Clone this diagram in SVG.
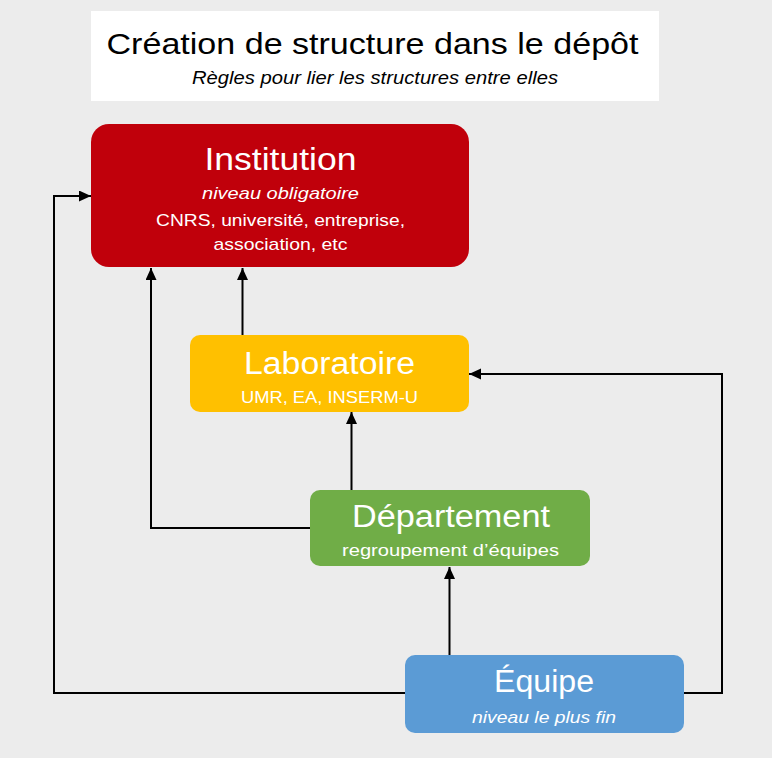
<svg xmlns="http://www.w3.org/2000/svg" width="772" height="759" viewBox="0 0 772 759">
<defs>
<style>
text { font-family: "Liberation Sans", Arial, sans-serif; text-anchor: middle; fill: #ffffff; }
.title { fill: #000000; font-size: 30px; }
.subtitle { fill: #000000; font-size: 18px; font-style: italic; }
.big { font-size: 31px; }
.small { font-size: 17px; }
.it { font-style: italic; }
.conn { fill: none; stroke: #000000; stroke-width: 2; marker-end: url(#arrow); }
</style>
<marker id="arrow" markerUnits="userSpaceOnUse" markerWidth="14" markerHeight="12" refX="12" refY="5.5" orient="auto">
<path d="M0,0 L12,5.5 L0,11 Z" fill="#000000"/>
</marker>
</defs>
<rect x="0" y="0" width="772" height="758" fill="#ececec"/>
<rect x="0" y="758" width="772" height="1" fill="#ffffff"/>
<g id="title">
<rect x="91" y="11" width="568" height="90" fill="#ffffff"/>
<text class="title" x="372.5" y="54" textLength="532" lengthAdjust="spacingAndGlyphs">Création de structure dans le dépôt</text>
<text class="subtitle" x="375" y="83.5" textLength="366" lengthAdjust="spacingAndGlyphs">Règles pour lier les structures entre elles</text>
</g>
<g id="connectors">
<path class="conn" d="M405,693 H54 V196 H91"/>
<path class="conn" d="M684,693 H722 V374 H469"/>
<path class="conn" d="M449.5,655 V567"/>
<path class="conn" d="M351.5,490 V412"/>
<path class="conn" d="M310,528 H151 V268"/>
<path class="conn" d="M242.5,335 V268"/>
</g>
<g id="institution">
<rect x="91" y="124" width="378" height="143" rx="18" fill="#c0000b"/>
<text class="big" x="280.5" y="170" textLength="152" lengthAdjust="spacingAndGlyphs">Institution</text>
<text class="small it" x="280.5" y="198.5" textLength="157" lengthAdjust="spacingAndGlyphs">niveau obligatoire</text>
<text class="small" x="280.5" y="226" textLength="249" lengthAdjust="spacingAndGlyphs">CNRS, université, entreprise,</text>
<text class="small" x="280.5" y="250" textLength="134" lengthAdjust="spacingAndGlyphs">association, etc</text>
</g>
<g id="laboratoire">
<rect x="190" y="335" width="279" height="77" rx="10" fill="#ffc000"/>
<text class="big" x="329.5" y="374" textLength="171" lengthAdjust="spacingAndGlyphs">Laboratoire</text>
<text class="small" x="329.5" y="403" textLength="177" lengthAdjust="spacingAndGlyphs">UMR, EA, INSERM-U</text>
</g>
<g id="departement">
<rect x="310" y="490" width="280" height="76" rx="10" fill="#70ad47"/>
<text class="big" x="451" y="527" textLength="198" lengthAdjust="spacingAndGlyphs">Département</text>
<text class="small" x="450.5" y="556" textLength="217" lengthAdjust="spacingAndGlyphs">regroupement d’équipes</text>
</g>
<g id="equipe">
<rect x="405" y="655" width="279" height="78" rx="10" fill="#5b9bd5"/>
<text class="big" x="544" y="692" textLength="100" lengthAdjust="spacingAndGlyphs">Équipe</text>
<text class="small it" x="544" y="723" textLength="144" lengthAdjust="spacingAndGlyphs">niveau le plus fin</text>
</g>
</svg>
